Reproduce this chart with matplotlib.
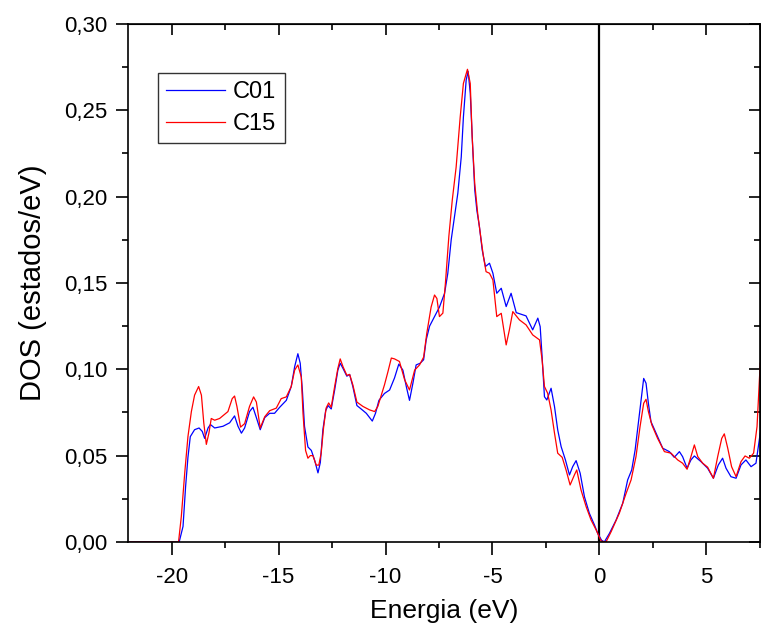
import matplotlib
matplotlib.use('Agg')
import matplotlib.pyplot as plt
from matplotlib.ticker import MultipleLocator, FuncFormatter

plt.rcParams['font.family'] = ['Liberation Sans', 'DejaVu Sans']

# DOS curves (energy in eV, DOS in states/eV)
energy_c01 = [-22.0, -19.65, -19.47, -19.35, -19.24, -19.13, -18.93, -18.72, -18.57, -18.46,
              -18.30, -18.19, -17.99, -17.60, -17.29, -17.06, -16.90, -16.74, -16.59, -16.36,
              -16.20, -16.04, -15.86, -15.65, -15.42, -15.19, -14.95, -14.64, -14.41, -14.25,
              -14.10, -13.99, -13.89, -13.79, -13.63, -13.47, -13.32, -13.16, -13.05, -12.93,
              -12.80, -12.69, -12.54, -12.38, -12.23, -12.12, -11.99, -11.81, -11.68, -11.53,
              -11.34, -11.14, -10.90, -10.62, -10.47, -10.31, -10.05, -9.81, -9.58, -9.38,
              -9.19, -9.03, -8.88, -8.72, -8.57, -8.38, -8.22, -8.10, -7.94, -7.71,
              -7.48, -7.24, -7.09, -6.93, -6.78, -6.62, -6.46, -6.36, -6.23, -6.14,
              -6.04, -5.92, -5.83, -5.73, -5.61, -5.48, -5.33, -5.14, -4.98, -4.80,
              -4.59, -4.36, -4.13, -3.89, -3.43, -3.12, -2.88, -2.77, -2.68, -2.57,
              -2.46, -2.26, -2.10, -1.95, -1.79, -1.59, -1.40, -1.25, -1.09, -0.90,
              -0.70, -0.47, -0.23, -0.08, 0.10, 0.23, 0.47, 0.78, 1.09, 1.32,
              1.51, 1.67, 1.82, 1.95, 2.07, 2.18, 2.29, 2.41, 2.65, 2.96,
              3.27, 3.50, 3.74, 3.89, 4.10, 4.28, 4.44, 4.75, 5.06, 5.33,
              5.56, 5.76, 5.92, 6.15, 6.39, 6.62, 6.85, 7.09, 7.32, 7.52]
dos_c01 = [0.0, 0.0, 0.009, 0.032, 0.049, 0.061, 0.065, 0.066, 0.064, 0.060,
           0.066, 0.068, 0.066, 0.067, 0.069, 0.073, 0.067, 0.063, 0.066, 0.0755,
           0.078, 0.072, 0.065, 0.072, 0.0745, 0.0745, 0.078, 0.082, 0.090, 0.1015,
           0.109, 0.1035, 0.088, 0.067, 0.055, 0.053, 0.0475, 0.040, 0.046, 0.065,
           0.076, 0.079, 0.077, 0.088, 0.0995, 0.1035, 0.1005, 0.096, 0.097, 0.090,
           0.079, 0.077, 0.0745, 0.070, 0.0745, 0.082, 0.086, 0.088, 0.095, 0.103,
           0.0995, 0.090, 0.082, 0.092, 0.1025, 0.1035, 0.1055, 0.117, 0.125, 0.1305,
           0.136, 0.144, 0.1555, 0.175, 0.188, 0.202, 0.223, 0.246, 0.2675, 0.2725,
           0.260, 0.227, 0.204, 0.192, 0.1825, 0.169, 0.1595, 0.1614, 0.1556, 0.144,
           0.1469, 0.1363, 0.144, 0.1328, 0.1309, 0.1228, 0.1296, 0.1247, 0.1073, 0.0841,
           0.0822, 0.089, 0.0784, 0.0649, 0.0552, 0.0475, 0.0388, 0.0436, 0.0471, 0.0398,
           0.0262, 0.0166, 0.0098, 0.005, 0.001, 0.0, 0.005, 0.0127, 0.0224, 0.0359,
           0.0417, 0.0533, 0.0687, 0.0822, 0.0947, 0.0919, 0.0803, 0.0697, 0.063, 0.0543,
           0.0523, 0.049, 0.0523, 0.0494, 0.0427, 0.0475, 0.0498, 0.0465, 0.0427, 0.0369,
           0.0446, 0.0485, 0.0427, 0.0378, 0.0369, 0.0446, 0.0475, 0.0436, 0.0456, 0.063]

energy_c15 = [-22.0, -19.68, -19.55, -19.39, -19.24, -19.08, -18.93, -18.74, -18.61, -18.50,
              -18.38, -18.26, -18.15, -17.99, -17.76, -17.37, -17.17, -17.06, -16.95, -16.78,
              -16.59, -16.36, -16.17, -16.04, -15.86, -15.65, -15.42, -15.11, -14.88, -14.64,
              -14.41, -14.25, -14.10, -13.94, -13.86, -13.74, -13.63, -13.52, -13.40, -13.24,
              -13.12, -13.01, -12.90, -12.78, -12.66, -12.54, -12.38, -12.23, -12.12, -11.99,
              -11.81, -11.68, -11.53, -11.34, -11.06, -10.75, -10.51, -10.36, -10.20, -10.05,
              -9.89, -9.73, -9.58, -9.35, -9.11, -8.88, -8.64, -8.41, -8.22, -8.07,
              -7.87, -7.71, -7.60, -7.48, -7.32, -7.20, -7.04, -6.88, -6.70, -6.51,
              -6.36, -6.17, -6.04, -5.95, -5.83, -5.69, -5.58, -5.42, -5.30, -5.14,
              -4.98, -4.80, -4.59, -4.36, -4.21, -4.05, -3.74, -3.43, -3.12, -2.80,
              -2.68, -2.57, -2.42, -2.26, -2.10, -1.95, -1.74, -1.56, -1.37, -1.17,
              -1.06, -0.86, -0.62, -0.39, -0.15, 0.08, 0.31, 0.55, 0.93, 1.25,
              1.48, 1.71, 1.90, 2.07, 2.18, 2.29, 2.45, 2.72, 3.04, 3.35,
              3.66, 3.89, 4.10, 4.28, 4.44, 4.60, 4.83, 5.06, 5.33, 5.53,
              5.72, 5.84, 6.00, 6.18, 6.39, 6.62, 6.81, 7.01, 7.21, 7.37,
              7.52]
dos_c15 = [0.0, 0.0, 0.0147, 0.040, 0.061, 0.0755, 0.085, 0.090, 0.085, 0.069,
           0.0565, 0.063, 0.0715, 0.0705, 0.0715, 0.0755, 0.083, 0.0845, 0.0785, 0.0665,
           0.0685, 0.0785, 0.084, 0.081, 0.066, 0.0725, 0.076, 0.0775, 0.083, 0.084,
           0.090, 0.0995, 0.1025, 0.0955, 0.0745, 0.053, 0.0485, 0.050, 0.050, 0.0445,
           0.0445, 0.0515, 0.066, 0.0775, 0.0805, 0.078, 0.090, 0.1005, 0.106, 0.1015,
           0.0965, 0.097, 0.091, 0.081, 0.0785, 0.0765, 0.0755, 0.0785, 0.085, 0.091,
           0.0985, 0.1065, 0.106, 0.1045, 0.094, 0.088, 0.0995, 0.1025, 0.107, 0.121,
           0.136, 0.143, 0.141, 0.1305, 0.1325, 0.150, 0.177, 0.198, 0.217, 0.246,
           0.2655, 0.2737, 0.2655, 0.2345, 0.2075, 0.190, 0.1795, 0.165, 0.1565, 0.1556,
           0.1517, 0.1305, 0.1324, 0.1141, 0.1228, 0.1334, 0.1286, 0.1257, 0.1199, 0.117,
           0.1054, 0.090, 0.0861, 0.0764, 0.063, 0.0514, 0.049, 0.0417, 0.033, 0.0388,
           0.0417, 0.0301, 0.0204, 0.0127, 0.0069, 0.0005, 0.0, 0.006, 0.0166, 0.0282,
           0.0359, 0.0494, 0.0668, 0.0803, 0.0826, 0.0755, 0.0678, 0.060, 0.0523, 0.0514,
           0.0475, 0.0456, 0.0421, 0.0494, 0.0562, 0.0494, 0.0456, 0.0433, 0.0369, 0.0494,
           0.060, 0.0626, 0.0543, 0.0436, 0.0378, 0.0465, 0.0498, 0.0485, 0.0514, 0.0668,
           0.1035]

fig, ax = plt.subplots(figsize=(7.61, 6.28), dpi=100)
fig.subplots_adjust(left=0.168, right=0.999, bottom=0.137, top=0.962)

ax.plot(energy_c01, dos_c01, color='#0000ff', lw=0.9, label='C01')
ax.plot(energy_c15, dos_c15, color='#ff0000', lw=0.9, label='C15')
ax.axvline(0, color='black', lw=1.6, zorder=1)

ax.set_xlim(-22.05, 7.52)
ax.set_ylim(0, 0.30)

ax.xaxis.set_major_locator(MultipleLocator(5))
ax.xaxis.set_minor_locator(MultipleLocator(2.5))
ax.yaxis.set_major_locator(MultipleLocator(0.05))
ax.yaxis.set_minor_locator(MultipleLocator(0.025))
ax.xaxis.set_major_formatter(FuncFormatter(lambda v, p: f'{v:.0f}'))
ax.yaxis.set_major_formatter(FuncFormatter(lambda v, p: f'{v:.2f}'.replace('.', ',')))

ax.tick_params(which='major', direction='out', length=9, width=1.2, labelsize=16, pad=6)
ax.tick_params(axis='x', which='major', pad=9)
ax.tick_params(which='minor', direction='out', length=4.5, width=1.2)
for s in ax.spines.values():
    s.set_linewidth(1.2)

# inward ticks on top and right, no labels
top = ax.secondary_xaxis('top')
top.xaxis.set_major_locator(MultipleLocator(5))
top.xaxis.set_minor_locator(MultipleLocator(2.5))
top.tick_params(which='major', direction='in', length=8, width=1.2, labeltop=False)
top.tick_params(which='minor', direction='in', length=4, width=1.2)
right = ax.secondary_yaxis('right')
right.yaxis.set_major_locator(MultipleLocator(0.05))
right.yaxis.set_minor_locator(MultipleLocator(0.025))
right.tick_params(which='major', direction='in', length=8, width=1.2, labelright=False)
right.tick_params(which='minor', direction='in', length=4, width=1.2)

ax.set_xlabel('Energia (eV)', fontsize=19, labelpad=8)
ax.set_ylabel('DOS (estados/eV)', fontsize=21, labelpad=12)

leg = ax.legend(loc='upper left', bbox_to_anchor=(0.047, 0.905), borderaxespad=0,
                fontsize=17, frameon=True, fancybox=False, handlelength=2.5,
                handletextpad=0.35, labelspacing=0.4, borderpad=0.35)
leg.get_frame().set_edgecolor('black')
leg.get_frame().set_linewidth(1.0)

plt.savefig('out.png', dpi=100)
